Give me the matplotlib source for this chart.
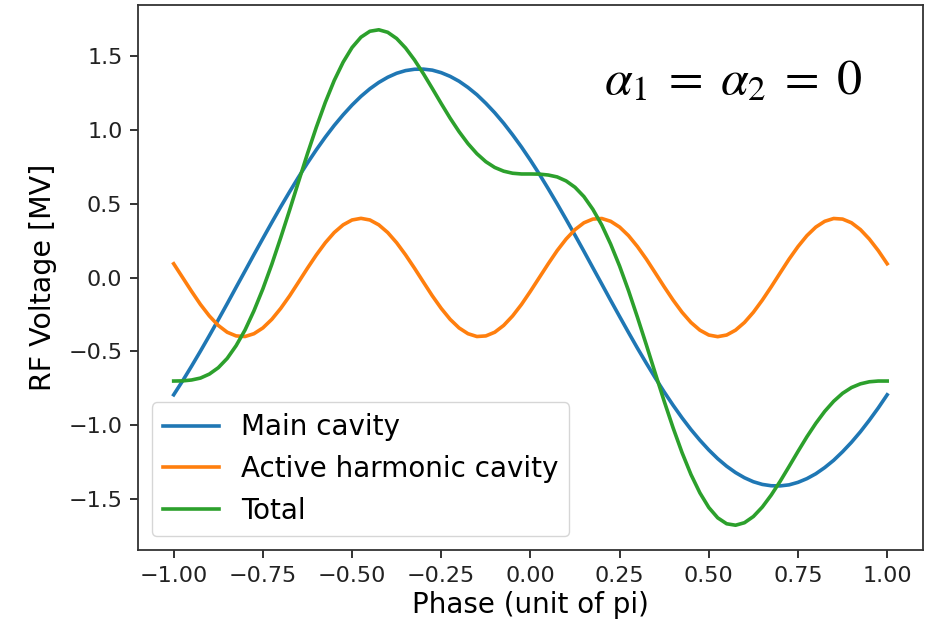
import numpy as np
import matplotlib
matplotlib.use('Agg')
import matplotlib.pyplot as plt

# Фаза в единицах pi, шаг 0.025
phase = np.linspace(-1, 1, 81)

# Напряжение основного резонатора, МВ
main_voltage = [
    -0.793, -0.699, -0.600, -0.498, -0.393, -0.286, -0.177, -0.066, 0.044, 0.155,
    0.264, 0.372, 0.478, 0.580, 0.679, 0.774, 0.864, 0.949, 1.028, 1.100,
    1.166, 1.225, 1.276, 1.319, 1.354, 1.381, 1.399, 1.408, 1.409, 1.402,
    1.385, 1.360, 1.327, 1.285, 1.236, 1.178, 1.114, 1.043, 0.965, 0.882,
    0.793, 0.699, 0.600, 0.498, 0.393, 0.286, 0.177, 0.066, -0.044, -0.155,
    -0.264, -0.372, -0.478, -0.580, -0.679, -0.774, -0.864, -0.949, -1.028, -1.100,
    -1.166, -1.225, -1.276, -1.319, -1.354, -1.381, -1.399, -1.408, -1.409, -1.402,
    -1.385, -1.360, -1.327, -1.285, -1.236, -1.178, -1.114, -1.043, -0.965, -0.882,
    -0.793,
]

# Напряжение активного гармонического резонатора, МВ
harmonic_voltage = [
    0.093, 0.000, -0.093, -0.182, -0.260, -0.324, -0.370, -0.395, -0.399, -0.380,
    -0.341, -0.283, -0.209, -0.124, -0.031, 0.063, 0.153, 0.235, 0.304, 0.356,
    0.389, 0.400, 0.389, 0.356, 0.304, 0.235, 0.153, 0.063, -0.031, -0.124,
    -0.209, -0.283, -0.341, -0.380, -0.399, -0.395, -0.370, -0.324, -0.260, -0.182,
    -0.093, 0.000, 0.093, 0.182, 0.260, 0.324, 0.370, 0.395, 0.399, 0.380,
    0.341, 0.283, 0.209, 0.124, 0.031, -0.063, -0.153, -0.235, -0.304, -0.356,
    -0.389, -0.400, -0.389, -0.356, -0.304, -0.235, -0.153, -0.063, 0.031, 0.124,
    0.209, 0.283, 0.341, 0.380, 0.399, 0.395, 0.370, 0.324, 0.260, 0.182,
    0.093,
]

# Суммарное напряжение, МВ
total_voltage = [
    -0.700, -0.699, -0.693, -0.680, -0.653, -0.610, -0.547, -0.461, -0.355, -0.225,
    -0.077, 0.089, 0.269, 0.456, 0.648, 0.837, 1.017, 1.184, 1.332, 1.456,
    1.555, 1.625, 1.665, 1.675, 1.658, 1.616, 1.552, 1.471, 1.378, 1.278,
    1.176, 1.077, 0.986, 0.905, 0.837, 0.783, 0.744, 0.719, 0.705, 0.700,
    0.700, 0.699, 0.693, 0.680, 0.653, 0.610, 0.547, 0.461, 0.355, 0.225,
    0.077, -0.089, -0.269, -0.456, -0.648, -0.837, -1.017, -1.184, -1.332, -1.456,
    -1.555, -1.625, -1.665, -1.675, -1.658, -1.616, -1.552, -1.471, -1.378, -1.278,
    -1.176, -1.077, -0.986, -0.905, -0.837, -0.783, -0.744, -0.719, -0.705, -0.700,
    -0.700,
]

series_labels = ['Main cavity', 'Active harmonic cavity', 'Total']

plt.rcParams['mathtext.fontset'] = 'stix'

fig = plt.figure(figsize=(9.35, 6.26), dpi=100)
ax = fig.add_axes([0.1476, 0.1214, 0.8394, 0.8706])

lw = 2.6
ax.plot(phase, main_voltage, color='tab:blue', linewidth=lw, label=series_labels[0])
ax.plot(phase, harmonic_voltage, color='tab:orange', linewidth=lw, label=series_labels[1])
ax.plot(phase, total_voltage, color='tab:green', linewidth=lw, label=series_labels[2])

ax.set_xlabel('Phase (unit of pi)', fontsize=20, labelpad=4)
ax.set_ylabel('RF Voltage [MV]', fontsize=20.5, labelpad=8)
ax.set_xticks([-1.0, -0.75, -0.5, -0.25, 0.0, 0.25, 0.5, 0.75, 1.0])
ax.set_yticks([-1.5, -1.0, -0.5, 0.0, 0.5, 1.0, 1.5])
ax.tick_params(labelsize=16, length=5.7, width=1.3, pad=5.5, colors='#222222')
for sp in ax.spines.values():
    sp.set_linewidth(1.3)
    sp.set_color('#333333')

ax.legend(loc='lower left', fontsize=20, handlelength=2.0, borderaxespad=0.5)

# Подпись с параметрами
ax.text(0.758, 0.862, r'$\alpha_1\;=\;\alpha_2\;=\;0$', transform=ax.transAxes,
        fontsize=36, ha='center', va='center')

fig.savefig('out.png', dpi=100)
plt.close(fig)
